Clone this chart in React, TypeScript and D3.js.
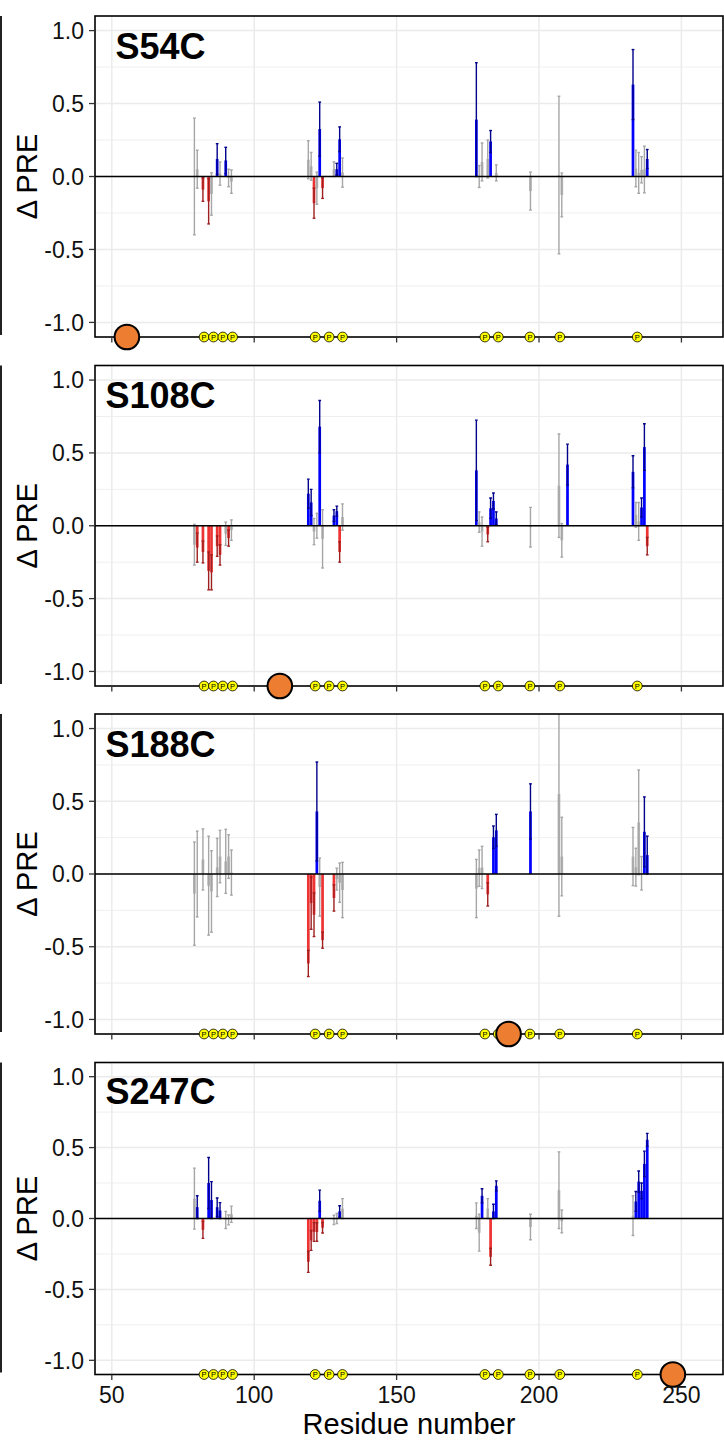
import React from "react";
import * as d3 from "d3";

// ---------- data ----------
const panelNames = ["S54C", "S108C", "S188C", "S247C"];
const labelSites = [55.3, 109, 189.3, 247];
const phosphoSites = [82.4, 85.7, 89.0, 92.4, 121.4, 126.3, 131.0, 181.0, 185.7, 196.8, 207.3, 234.5];
const xTicks = [50, 100, 150, 200, 250];
const yTicks = [-1, -0.5, 0, 0.5, 1];
const yTickLabels = ["-1.0", "-0.5", "0.0", "0.5", "1.0"];
const yMinor = [-0.75, -0.25, 0.25, 0.75];

// S54C
const s54cResidue = [79, 80, 82, 84, 85, 87, 88, 90, 91, 92, 119, 120, 121, 122, 123, 124, 128, 129, 130, 131, 178, 179, 180, 182, 183, 185, 197, 207, 208, 233, 234, 235, 236, 237, 238];
const s54cMean = [0.0, 0.05, -0.09, -0.17, -0.12, 0.12, 0.02, 0.11, -0.01, -0.035, 0.115, 0.07, -0.183, -0.08, 0.325, -0.08, 0.05, 0.05, 0.255, 0.027, 0.39, 0.0, 0.1, 0.12, 0.24, 0.025, -0.1, 0.01, -0.126, 0.63, 0.055, 0.025, 0.046, 0.048, 0.12];
const s54cSd = [0.4, 0.13, 0.08, 0.155, 0.145, 0.105, 0.08, 0.09, 0.06, 0.08, 0.13, 0.095, 0.103, 0.11, 0.185, 0.07, 0.05, 0.04, 0.085, 0.1, 0.39, 0.075, 0.13, 0.13, 0.075, 0.055, 0.13, 0.54, 0.15, 0.24, 0.125, 0.14, 0.09, 0.16, 0.065];
const s54cSig = [0, 0, 1, 1, 0, 1, 0, 1, 0, 0, 0, 0, 1, 0, 1, 1, 0, 1, 1, 0, 1, 0, 0, 0, 1, 0, 0, 0, 0, 1, 0, 0, 0, 0, 1];

// S108C
const s108cResidue = [79, 80, 82, 84, 85, 87, 88, 90, 91, 92, 119, 120, 121, 122, 123, 124, 128, 129, 130, 131, 178, 179, 180, 182, 183, 184, 185, 197, 207, 208, 210, 233, 234, 235, 236, 237, 238];
const s108cMean = [-0.13, -0.15, -0.18, -0.31, -0.32, -0.14, -0.2, -0.055, -0.085, -0.03, 0.22, 0.16, -0.04, 0.0, 0.68, -0.09, 0.07, 0.1, -0.18, 0.06, 0.38, 0.025, -0.04, -0.06, 0.12, 0.17, 0.05, -0.01, 0.275, -0.1, 0.42, 0.37, 0.075, 0.03, 0.125, 0.54, -0.14];
const s108cSd = [0.14, 0.1, 0.075, 0.13, 0.12, 0.07, 0.07, 0.08, 0.055, 0.07, 0.1, 0.09, 0.09, 0.085, 0.18, 0.2, 0.04, 0.035, 0.07, 0.09, 0.345, 0.07, 0.1, 0.05, 0.07, 0.055, 0.045, 0.136, 0.355, 0.115, 0.14, 0.11, 0.085, 0.13, 0.065, 0.16, 0.06];
const s108cSig = [0, 1, 1, 1, 1, 1, 1, 0, 1, 0, 1, 1, 0, 0, 1, 0, 1, 1, 1, 0, 1, 0, 0, 1, 1, 1, 1, 0, 0, 0, 1, 1, 0, 0, 1, 1, 1];

// S188C
const s188cResidue = [79, 80, 82, 84, 85, 87, 88, 90, 91, 92, 119, 120, 121, 122, 123, 124, 128, 129, 130, 131, 178, 179, 180, 182, 184, 185, 197, 207, 208, 233, 234, 235, 236, 237, 238];
const s188cMean = [-0.135, 0.0, 0.1, -0.08, -0.12, 0.045, 0.12, 0.087, 0.12, 0.01, -0.615, -0.2, -0.28, 0.43, -0.09, -0.455, -0.165, -0.035, -0.06, -0.11, -0.1, 0.04, 0.045, -0.14, 0.253, 0.3, 0.43, 0.55, 0.12, 0.12, 0.047, 0.355, 0.005, 0.29, 0.13];
const s188cSd = [0.355, 0.295, 0.21, 0.34, 0.28, 0.2, 0.18, 0.22, 0.15, 0.155, 0.09, 0.18, 0.15, 0.34, 0.2, 0.055, 0.09, 0.075, 0.135, 0.19, 0.2, 0.125, 0.145, 0.08, 0.077, 0.11, 0.19, 0.84, 0.27, 0.2, 0.13, 0.36, 0.115, 0.24, 0.13];
const s188cSig = [0, 0, 0, 0, 0, 0, 0, 0, 0, 0, 1, 1, 1, 1, 0, 1, 1, 0, 0, 0, 0, 0, 0, 1, 1, 1, 1, 0, 0, 0, 0, 0, 0, 1, 1];

// S247C
const s247cResidue = [79, 80, 82, 84, 85, 87, 88, 90, 91, 92, 119, 120, 121, 122, 123, 124, 128, 129, 130, 131, 178, 179, 180, 182, 183, 184, 185, 197, 207, 208, 233, 234, 235, 236, 237, 238];
const s247cMean = [0.14, 0.08, -0.08, 0.25, 0.13, 0.08, 0.056, -0.01, -0.01, 0.03, -0.305, -0.155, -0.095, -0.095, 0.125, -0.065, -0.01, 0.0, 0.05, 0.07, 0.02, -0.1, 0.16, 0.07, -0.27, 0.05, 0.23, -0.06, 0.2, -0.02, 0.02, 0.12, 0.26, 0.195, 0.385, 0.555];
const s247cSd = [0.215, 0.08, 0.06, 0.18, 0.13, 0.065, 0.056, 0.06, 0.035, 0.057, 0.075, 0.07, 0.066, 0.065, 0.075, 0.037, 0.033, 0.035, 0.04, 0.07, 0.09, 0.13, 0.05, 0.07, 0.06, 0.05, 0.035, 0.09, 0.27, 0.08, 0.14, 0.07, 0.075, 0.055, 0.09, 0.045];
const s247cSig = [0, 1, 1, 1, 1, 1, 1, 0, 0, 0, 1, 1, 1, 1, 1, 1, 0, 0, 1, 0, 0, 0, 1, 0, 1, 1, 1, 0, 0, 0, 0, 1, 1, 1, 1, 1];

const panelResidues = [s54cResidue, s108cResidue, s188cResidue, s247cResidue];
const panelMeans = [s54cMean, s108cMean, s188cMean, s247cMean];
const panelSds = [s54cSd, s108cSd, s188cSd, s247cSd];
const panelSigs = [s54cSig, s108cSig, s188cSig, s247cSig];

// ---------- layout ----------
const W = 724;
const H = 1440;
const LEFT = 95;
const RIGHT = 723;
const panelBoxes = [
  { top: 16, bottom: 337 },
  { top: 365.5, bottom: 686 },
  { top: 714, bottom: 1034 },
  { top: 1062.5, bottom: 1374.5 },
];
const FONT = "'Liberation Sans', Arial, Helvetica, sans-serif";

const colors = {
  posBar: "#0000ff",
  posErr: "#00008b",
  negBar: "#ee3333",
  negErr: "#9e1f1f",
  nsBar: "#b5b5b5",
  nsErr: "#a6a6a6",
  grid: "#ebebeb",
};

const x = d3.scaleLinear().domain([44.1, 264.6]).range([LEFT, RIGHT]);

function Panel({ idx }: { idx: number }) {
  const box = panelBoxes[idx];
  const y = d3.scaleLinear().domain([-1.1, 1.1]).range([box.bottom, box.top]);
  const res = panelResidues[idx];
  const mean = panelMeans[idx];
  const sd = panelSds[idx];
  const sig = panelSigs[idx];
  const bw = x(0.95) - x(0);
  const cw = x(0.48) - x(0);
  const clipId = `clip-${idx}`;
  const items = res.map((r, i) => {
    const m = mean[i];
    const s = sd[i];
    const isSig = sig[i] === 1;
    const bar = isSig ? (m >= 0 ? colors.posBar : colors.negBar) : colors.nsBar;
    const err = isSig ? (m >= 0 ? colors.posErr : colors.negErr) : colors.nsErr;
    return { r, m, s, bar, err };
  });
  const midY = (box.top + box.bottom) / 2;
  return (
    <g>
      <defs>
        <clipPath id={clipId}>
          <rect x={LEFT} y={box.top} width={RIGHT - LEFT} height={box.bottom - box.top} />
        </clipPath>
      </defs>
      <rect x={LEFT} y={box.top} width={RIGHT - LEFT} height={box.bottom - box.top} fill="#fff" />
      {yMinor.map((v) => (
        <line key={"mn" + v} x1={LEFT} x2={RIGHT} y1={y(v)} y2={y(v)} stroke={colors.grid} strokeWidth={0.8} />
      ))}
      {yTicks.map((v) => (
        <line key={"mj" + v} x1={LEFT} x2={RIGHT} y1={y(v)} y2={y(v)} stroke={colors.grid} strokeWidth={1.5} />
      ))}
      {xTicks.map((v) => (
        <line key={"vx" + v} x1={x(v)} x2={x(v)} y1={box.top} y2={box.bottom} stroke={colors.grid} strokeWidth={1.5} />
      ))}
      <g clipPath={`url(#${clipId})`}>
        {items.map((d) => (
          <rect
            key={"b" + d.r}
            x={x(d.r) - bw / 2}
            width={bw}
            y={Math.min(y(0), y(d.m))}
            height={Math.abs(y(d.m) - y(0))}
            fill={d.bar}
          />
        ))}
        {items.map((d) => (
          <g key={"e" + d.r} stroke={d.err} strokeWidth={1.4}>
            <line x1={x(d.r)} x2={x(d.r)} y1={y(d.m - d.s)} y2={y(d.m + d.s)} />
            <line x1={x(d.r) - cw} x2={x(d.r) + cw} y1={y(d.m - d.s)} y2={y(d.m - d.s)} />
            <line x1={x(d.r) - cw} x2={x(d.r) + cw} y1={y(d.m + d.s)} y2={y(d.m + d.s)} />
          </g>
        ))}
      </g>
      <line x1={LEFT} x2={RIGHT} y1={y(0)} y2={y(0)} stroke="#000" strokeWidth={1.5} />
      <rect
        x={LEFT}
        y={box.top}
        width={RIGHT - LEFT}
        height={box.bottom - box.top}
        fill="none"
        stroke="#000"
        strokeWidth={1.6}
      />
      {yTicks.map((v, i) => (
        <g key={"yt" + v}>
          <line x1={LEFT - 6} x2={LEFT} y1={y(v)} y2={y(v)} stroke="#333" strokeWidth={1.3} />
          <text
            x={LEFT - 11}
            y={y(v)}
            dy="0.36em"
            textAnchor="end"
            fontFamily={FONT}
            fontSize={23}
            fill="#111"
          >
            {yTickLabels[i]}
          </text>
        </g>
      ))}
      {xTicks.map((v) => (
        <line key={"xt" + v} x1={x(v)} x2={x(v)} y1={box.bottom} y2={box.bottom + 5.5} stroke="#333" strokeWidth={1.3} />
      ))}
      <text
        transform={`translate(37,${midY}) rotate(-90)`}
        textAnchor="middle"
        fontFamily={FONT}
        fontSize={29}
        fill="#000"
      >
        Δ PRE
      </text>
      <line x1={1} x2={1} y1={box.top} y2={box.bottom - 2} stroke="#222" strokeWidth={2} />
      <text
        x={160.5}
        y={y(0.805)}
        textAnchor="middle"
        fontFamily={FONT}
        fontSize={36}
        fontWeight="bold"
        fill="#000"
      >
        {panelNames[idx]}
      </text>
      {phosphoSites.map((p) => (
        <g key={"p" + p}>
          <circle cx={x(p)} cy={y(-1.1)} r={4.9} fill="#ffff00" stroke="#000" strokeWidth={0.8} />
          <text
            x={x(p)}
            y={y(-1.1)}
            dy="0.36em"
            textAnchor="middle"
            fontFamily={FONT}
            fontSize={7.5}
            fill="#000"
          >
            P
          </text>
        </g>
      ))}
      <circle cx={x(labelSites[idx])} cy={y(-1.1)} r={12.3} fill="#ed7d31" stroke="#000" strokeWidth={2} />
    </g>
  );
}

export default function App() {
  const lastBottom = panelBoxes[3].bottom;
  return (
    <svg
      width={W}
      height={H}
      viewBox={`0 0 ${W} ${H}`}
      style={{ position: "absolute", left: 0, top: 0, background: "#fff" }}
    >
      <rect x={0} y={0} width={W} height={H} fill="#fff" />
      {panelBoxes.map((_, i) => (
        <Panel key={i} idx={i} />
      ))}
      {xTicks.map((v) => (
        <text
          key={"xl" + v}
          x={x(v)}
          y={lastBottom + 28.5}
          textAnchor="middle"
          fontFamily={FONT}
          fontSize={23}
          fill="#111"
        >
          {v}
        </text>
      ))}
      <text x={(LEFT + RIGHT) / 2} y={lastBottom + 59} textAnchor="middle" fontFamily={FONT} fontSize={29} fill="#000">
        Residue number
      </text>
    </svg>
  );
}
